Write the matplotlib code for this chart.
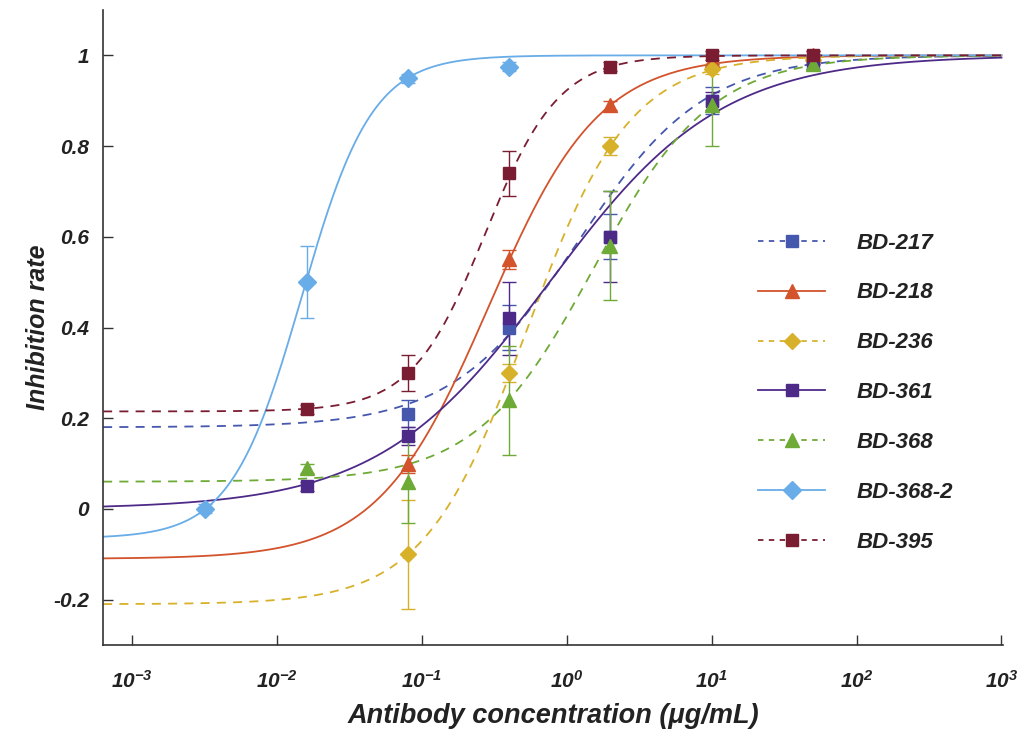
import numpy as np
import matplotlib
matplotlib.use("Agg")
import matplotlib.pyplot as plt

plt.rcParams['font.family'] = ['Liberation Sans', 'DejaVu Sans']
plt.rcParams['font.weight'] = 'bold'
plt.rcParams['font.style'] = 'italic'
plt.rcParams['mathtext.fontset'] = 'custom'
plt.rcParams['mathtext.rm'] = 'Liberation Sans:bold:italic'
plt.rcParams['mathtext.it'] = 'Liberation Sans:bold:italic'
plt.rcParams['mathtext.bf'] = 'Liberation Sans:bold:italic'

# ---- data ----
names = ['BD-217', 'BD-218', 'BD-236', 'BD-361', 'BD-368', 'BD-368-2', 'BD-395']

x_217 = [0.08, 0.4, 2, 10, 50]
y_217 = [0.21, 0.40, 0.60, 0.90, 0.98]
e_217 = [0.03, 0.05, 0.05, 0.03, 0.01]

x_218 = [0.08, 0.4, 2, 10, 50]
y_218 = [0.10, 0.55, 0.89, 0.99, 1.00]
e_218 = [0.02, 0.02, 0.01, 0.01, 0.01]

x_236 = [0.08, 0.4, 2, 10, 50]
y_236 = [-0.10, 0.30, 0.80, 0.97, 0.99]
e_236 = [0.12, 0.02, 0.02, 0.01, 0.01]

x_361 = [0.016, 0.08, 0.4, 2, 10, 50]
y_361 = [0.05, 0.16, 0.42, 0.60, 0.90, 0.99]
e_361 = [0.01, 0.02, 0.08, 0.10, 0.02, 0.01]

x_368 = [0.016, 0.08, 0.4, 2, 10, 50]
y_368 = [0.09, 0.06, 0.24, 0.58, 0.89, 0.98]
e_368 = [0.01, 0.09, 0.12, 0.12, 0.09, 0.01]

x_3682 = [0.0032, 0.016, 0.08, 0.4]
y_3682 = [0.00, 0.50, 0.95, 0.975]
e_3682 = [0.01, 0.08, 0.01, 0.01]

x_395 = [0.016, 0.08, 0.4, 2, 10, 50]
y_395 = [0.22, 0.30, 0.74, 0.975, 1.00, 1.00]
e_395 = [0.01, 0.04, 0.05, 0.01, 0.01, 0.01]

# 4-parameter logistic fit parameters: bottom, top, EC50, hill slope
fit_217 = [0.18, 1.0, 1.2, 1.0]
fit_218 = [-0.11, 1.0, 0.288, 1.14]
fit_236 = [-0.21, 1.0, 0.53, 1.22]
fit_361 = [0.0, 1.0, 0.76, 0.736]
fit_368 = [0.06, 1.0, 1.53, 1.07]
fit_3682 = [-0.065, 1.0, 0.0148, 1.786]
fit_395 = [0.215, 1.0, 0.274, 1.715]

xs = [x_217, x_218, x_236, x_361, x_368, x_3682, x_395]
ys = [y_217, y_218, y_236, y_361, y_368, y_3682, y_395]
es = [e_217, e_218, e_236, e_361, e_368, e_3682, e_395]
fits = [fit_217, fit_218, fit_236, fit_361, fit_368, fit_3682, fit_395]

colors = ['#4658AE', '#D2532C', '#D8B12A', '#4E2A88', '#6EAA36', '#68ACE8', '#7A1D32']
markers = ['s', '^', 'D', 's', '^', 'D', 's']
msizes = [8, 10, 8, 8, 10, 9, 8]
styles = ['--', '-', '--', '-', '--', '-', '--']

xt_labels = [r'$10^{-3}$', r'$10^{-2}$', r'$10^{-1}$', r'$10^{0}$', r'$10^{1}$', r'$10^{2}$', r'$10^{3}$']
yt_vals = [-0.2, 0, 0.2, 0.4, 0.6, 0.8, 1]
yt_labels = ['-0.2', '0', '0.2', '0.4', '0.6', '0.8', '1']


def logistic(x, p):
    b, t, ec, h = p
    return b + (t - b) / (1 + (ec / x) ** h)


fig = plt.figure(figsize=(10.26, 7.35), dpi=100)
ax = fig.add_axes([0.1005, 0.1224, 0.877, 0.864])

xc = np.logspace(-3.2, 3, 500)
for i, name in enumerate(names):
    c = colors[i]
    ax.plot(xc, logistic(xc, fits[i]), linestyle=styles[i], color=c, lw=1.3,
            dashes=(5, 4) if styles[i] == '--' else (None, None), zorder=2 + i * 0.1)
    ax.errorbar(xs[i], ys[i], yerr=es[i], fmt='none', ecolor=c, elinewidth=1.0,
                capsize=5, capthick=1.0, zorder=3 + i * 0.1)
    ax.plot(xs[i], ys[i], linestyle='none', marker=markers[i], color=c,
            markersize=msizes[i], markeredgecolor=c, zorder=4 + i * 0.1)
    # legend proxy
    if styles[i] == '--':
        ax.plot([], [], linestyle='--', dashes=(3, 3), color=c, lw=1.3, marker=markers[i],
                markersize=msizes[i], label=name)
    else:
        ax.plot([], [], linestyle='-', color=c, lw=1.3, marker=markers[i],
                markersize=msizes[i], label=name)

ax.set_xscale('log')
ax.set_xlim(10 ** -3.2, 10 ** 3.01)
ax.set_ylim(-0.3, 1.1)
ax.set_xticks([1e-3, 1e-2, 1e-1, 1e0, 1e1, 1e2, 1e3])
ax.set_xticklabels(xt_labels)
ax.xaxis.set_minor_locator(matplotlib.ticker.NullLocator())
ax.set_yticks(yt_vals)
ax.set_yticklabels(yt_labels)

ax.spines['top'].set_visible(False)
ax.spines['right'].set_visible(False)
for s in ['left', 'bottom']:
    ax.spines[s].set_linewidth(1.2)
    ax.spines[s].set_color('#333333')
ax.tick_params(axis='both', direction='in', length=7, width=1.0, colors='#333333',
               labelsize=15, labelcolor='#222222')
ax.tick_params(axis='x', pad=18)
ax.tick_params(axis='y', pad=10)

ax.set_xlabel('Antibody concentration (μg/mL)', fontsize=19.5, fontweight='bold',
              fontstyle='italic', color='#222222', labelpad=8)
ax.set_ylabel('Inhibition rate', fontsize=18, fontweight='bold', fontstyle='italic',
              color='#222222', labelpad=2)

leg = ax.legend(loc='upper left', bbox_to_anchor=(0.706, 0.681), frameon=False,
                handlelength=3.0, handletextpad=1.4, labelspacing=1.3,
                prop={'size': 16, 'weight': 'bold', 'style': 'italic'})
for t in leg.get_texts():
    t.set_color('#222222')

fig.savefig('out.png', dpi=100)
